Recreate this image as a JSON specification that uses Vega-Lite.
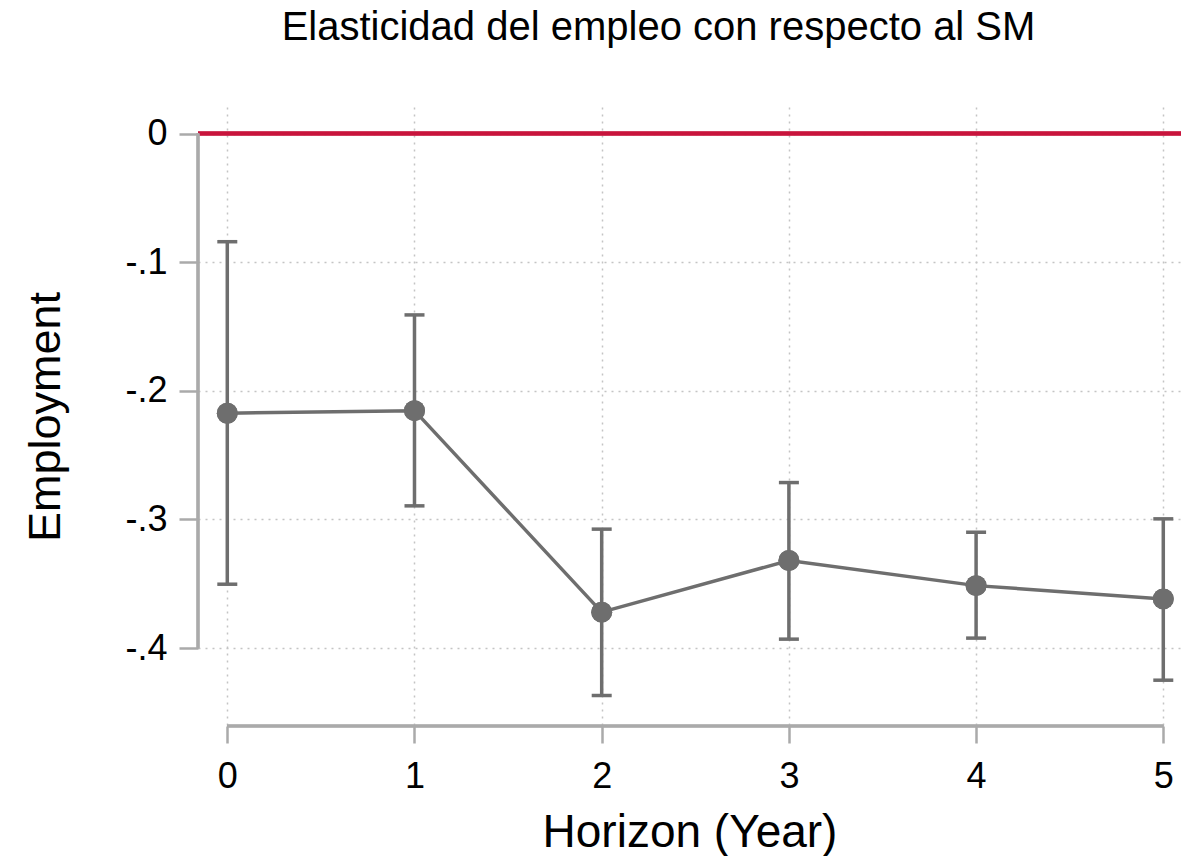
{
  "$schema": "https://vega.github.io/schema/vega-lite/v6.json",
  "width": 983,
  "height": 619,
  "autosize": {"type": "none"},
  "padding": {"left": 198, "top": 107, "right": 0, "bottom": 130},
  "background": "white",
  "title": {
    "text": "Elasticidad del empleo con respecto al SM",
    "font": "Liberation Sans",
    "fontSize": 40,
    "fontWeight": "normal",
    "color": "#000000",
    "anchor": "middle",
    "baseline": "alphabetic",
    "offset": 27,
    "dx": -31
  },
  "data": {
    "values": [
      {"h": 0, "b": -0.2174, "lo": -0.3503, "hi": -0.0841},
      {"h": 1, "b": -0.2154, "lo": -0.2894, "hi": -0.1410},
      {"h": 2, "b": -0.3720, "lo": -0.4368, "hi": -0.3075},
      {"h": 3, "b": -0.3319, "lo": -0.3930, "hi": -0.2713},
      {"h": 4, "b": -0.3514, "lo": -0.3922, "hi": -0.3099},
      {"h": 5, "b": -0.3617, "lo": -0.4249, "hi": -0.2995}
    ]
  },
  "layer": [
    {
      "mark": {"type": "point", "filled": true, "color": "#6e6e6e", "opacity": 1, "size": 440},
      "encoding": {
        "x": {
          "field": "h",
          "type": "quantitative",
          "scale": {"domain": [-0.1565, 5.0946], "nice": false, "zero": false},
          "axis": {
            "title": "Horizon (Year)",
            "values": [0, 1, 2, 3, 4, 5],
            "format": "d",
            "domain": false,
            "grid": true,
            "gridColor": "#c4c4c4",
            "gridDash": [2, 5],
            "gridWidth": 1.5,
            "ticks": true,
            "tickSize": 17,
            "tickColor": "#aaaaaa",
            "tickWidth": 2.5,
            "labelFont": "Liberation Sans",
            "labelFontSize": 36,
            "labelColor": "#000000",
            "labelPadding": 16,
            "titleFont": "Liberation Sans",
            "titleFontSize": 46,
            "titleFontWeight": "normal",
            "titleColor": "#000000",
            "titlePadding": 16
          }
        },
        "y": {
          "field": "b",
          "type": "quantitative",
          "scale": {"domain": [-0.4605, 0.0206], "nice": false, "zero": false},
          "axis": {
            "title": "Employment",
            "values": [0, -0.1, -0.2, -0.3, -0.4],
            "labelExpr": "datum.value == 0 ? '0' : '-.' + round(abs(datum.value) * 10)",
            "domain": false,
            "grid": true,
            "gridColor": "#c4c4c4",
            "gridDash": [2, 5],
            "gridWidth": 1.5,
            "ticks": true,
            "tickSize": 19,
            "tickColor": "#aaaaaa",
            "tickWidth": 2.5,
            "labelFont": "Liberation Sans",
            "labelFontSize": 36,
            "labelColor": "#000000",
            "labelPadding": 12,
            "titleFont": "Liberation Sans",
            "titleFontSize": 45,
            "titleFontWeight": "normal",
            "titleColor": "#000000",
            "titlePadding": 56
          }
        }
      }
    },
    {
      "mark": {"type": "rule", "color": "#c8143c", "strokeWidth": 3.5},
      "encoding": {
        "y": {"datum": 0, "type": "quantitative"}
      }
    },
    {
      "mark": {"type": "rule", "color": "#aaaaaa", "strokeWidth": 2.5},
      "encoding": {
        "x": {"datum": -0.1565, "type": "quantitative"},
        "y": {"datum": 0, "type": "quantitative"},
        "y2": {"datum": -0.4}
      }
    },
    {
      "mark": {"type": "rule", "color": "#aaaaaa", "strokeWidth": 2.5},
      "encoding": {
        "y": {"datum": -0.4605, "type": "quantitative"},
        "x": {"datum": 0, "type": "quantitative"},
        "x2": {"datum": 5}
      }
    },
    {
      "mark": {"type": "rule", "color": "#6e6e6e", "strokeWidth": 3.5},
      "encoding": {
        "x": {"field": "h", "type": "quantitative"},
        "y": {"field": "lo", "type": "quantitative"},
        "y2": {"field": "hi"}
      }
    },
    {
      "mark": {"type": "tick", "color": "#6e6e6e", "orient": "horizontal", "size": 20, "thickness": 3.5, "opacity": 1},
      "encoding": {
        "x": {"field": "h", "type": "quantitative"},
        "y": {"field": "lo", "type": "quantitative"}
      }
    },
    {
      "mark": {"type": "tick", "color": "#6e6e6e", "orient": "horizontal", "size": 20, "thickness": 3.5, "opacity": 1},
      "encoding": {
        "x": {"field": "h", "type": "quantitative"},
        "y": {"field": "hi", "type": "quantitative"}
      }
    },
    {
      "mark": {"type": "line", "color": "#6e6e6e", "strokeWidth": 3.5},
      "encoding": {
        "x": {"field": "h", "type": "quantitative"},
        "y": {"field": "b", "type": "quantitative"}
      }
    },
    {
      "mark": {"type": "point", "filled": true, "color": "#6e6e6e", "opacity": 1, "size": 440},
      "encoding": {
        "x": {"field": "h", "type": "quantitative"},
        "y": {"field": "b", "type": "quantitative"}
      }
    }
  ],
  "config": {
    "view": {"stroke": null}
  }
}
